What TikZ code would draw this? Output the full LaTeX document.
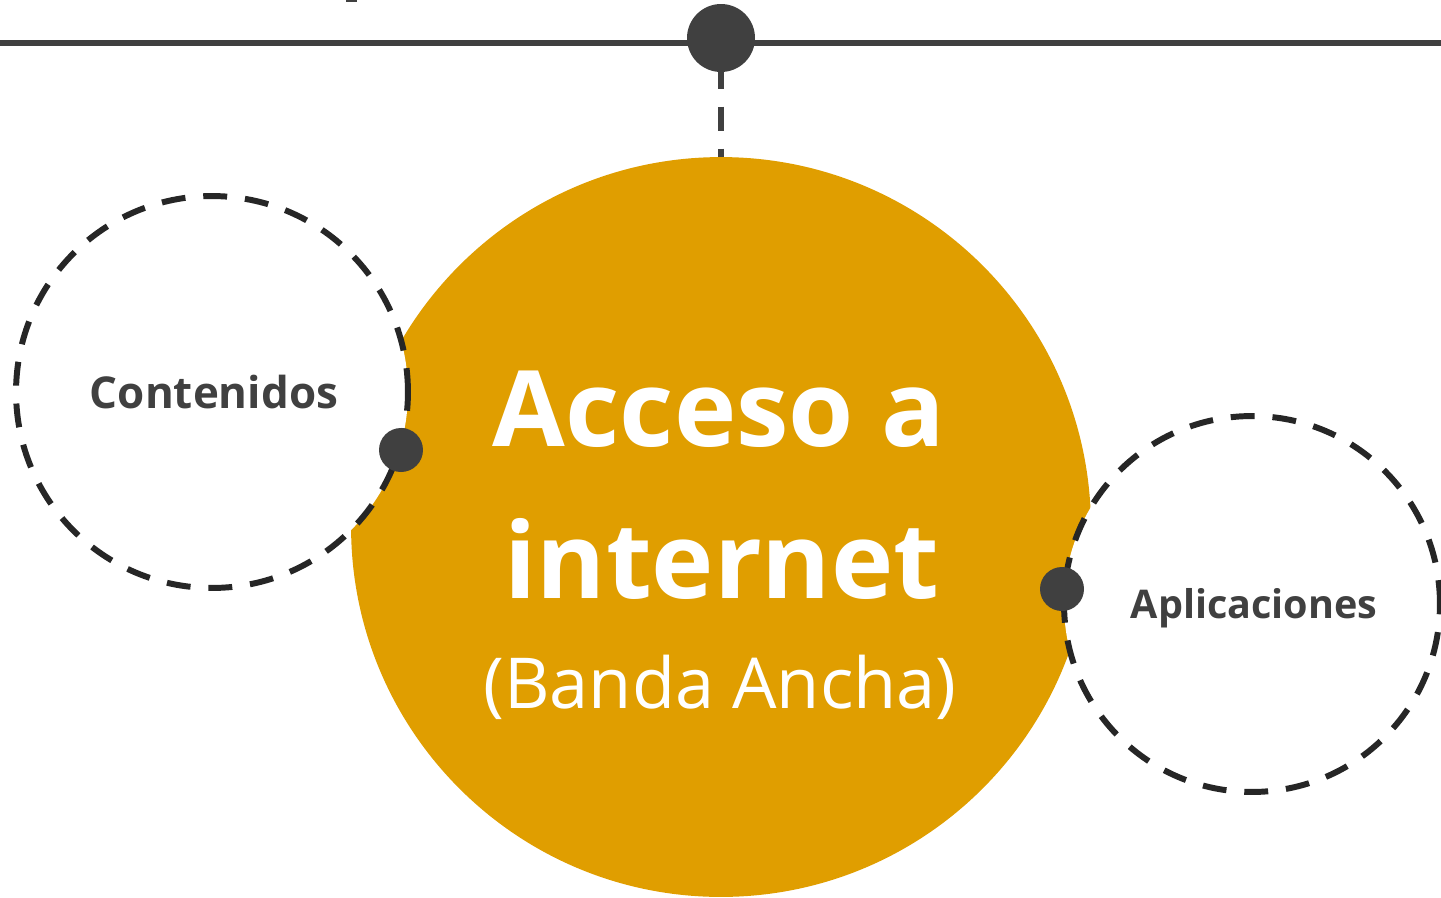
\documentclass[tikz,border=0pt]{standalone}
\usepackage{fontspec}
\setmainfont{Open Sans}
\usetikzlibrary{calc}
\usepackage{xcolor}
\definecolor{inkgray}{HTML}{404040}
\definecolor{ringgray}{HTML}{262626}
\definecolor{bandorange}{HTML}{E09E00}
\tikzset{
  ring/.style={circle, draw=ringgray, fill=white, line width=3.4pt, dash pattern=on 13.6pt off 10.2pt, inner sep=0pt},
  knob/.style={circle, fill=inkgray, inner sep=0pt, minimum size=0.88cm},
  label/.style={text=inkgray, anchor=base, inner sep=0pt},
  title/.style={text=white, anchor=base, inner sep=0pt},
}

\begin{document}
\begin{tikzpicture}[x=0.02cm,y=-0.02cm]
\useasboundingbox (0,0) rectangle (1441,897);
% main circle
\node[circle, fill=bandorange, inner sep=0pt, minimum size=14.8cm] (acceso) at (721,527) {};
% side rings
\node[ring, minimum size=7.84cm] (contenidos) at (212,392) {};
\node[ring, minimum size=7.52cm] (aplicaciones) at (1252,604) {};
% timeline
\coordinate (west) at (0,43);
\coordinate (east) at (1441,43);
\draw[inkgray, line width=3.4pt] (west) -- (east);
\fill[inkgray] (346,0) rectangle (357,2);
\coordinate (hub) at (721,38);
\draw[inkgray, line width=3.4pt, dash pattern=on 13.6pt off 10.2pt, dash phase=8.5pt] (hub) -- (acceso.north);
\node[knob, minimum size=1.36cm] (top) at (hub) {};
% joints
\node[knob] (jleft) at (401,450) {};
\node[knob] (jright) at (1062,589) {};
% texts
\node[label, font=\bfseries\fontsize{25}{30}\selectfont] (tcont) at (214,408) {Contenidos};
\node[label, font=\bfseries\fontsize{22.5}{27}\selectfont] (tapl) at (1254,618) {Aplicaciones};
\node[title, font=\bfseries\fontsize{60}{70}\selectfont] (tacc) at (719,446) {Acceso a};
\node[title, font=\bfseries\fontsize{60}{70}\selectfont] (tint) at (722,598) {internet};
\node[title, font=\fontsize{40}{46}\selectfont] (tband) at (720,708) {(Banda Ancha)};
\end{tikzpicture}
\end{document}
